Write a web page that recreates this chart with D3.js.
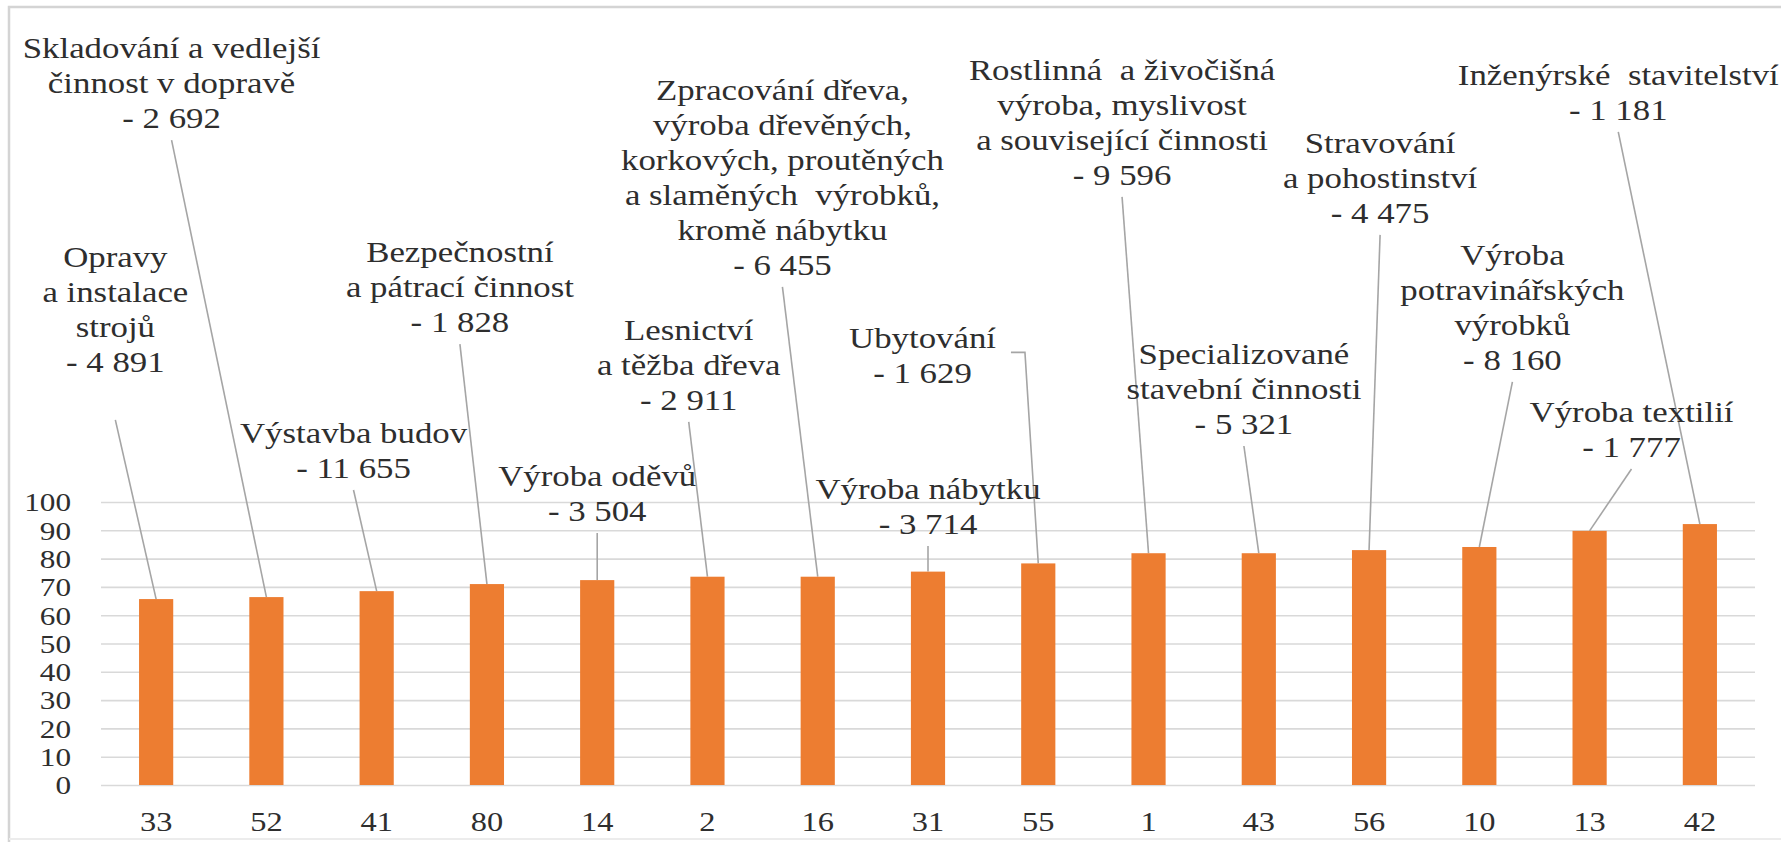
<!DOCTYPE html>
<html>
<head>
<meta charset="utf-8">
<script src="https://cdn.jsdelivr.net/npm/d3@7"></script>
<style>
  html, body { margin: 0; background: #fff; overflow: hidden; }
  svg { display: block; }
  text { font-family: "Liberation Serif", "Times New Roman", serif; fill: #2e2e2e; }
</style>
</head>
<body>
<div id="chart"></div>
<script>
// CZ-NACE divisions, ordered by share
const codes = ['33', '52', '41', '80', '14', '2', '16', '31', '55', '1', '43', '56', '10', '13', '42']
const shares = [65.7, 66.4, 68.5, 71.0, 72.4, 73.6, 73.6, 75.4, 78.3, 81.9, 81.9, 83.0, 84.1, 89.8, 92.2]
const branches = [
  ['Opravy', 'a instalace', 'strojů'],
  ['Skladování a vedlejší', 'činnost v dopravě'],
  ['Výstavba budov'],
  ['Bezpečnostní', 'a pátrací činnost'],
  ['Výroba oděvů'],
  ['Lesnictví', 'a těžba dřeva'],
  ['Zpracování dřeva,', 'výroba dřevěných,', 'korkových, proutěných', 'a slaměných\u00a0 výrobků,', 'kromě nábytku'],
  ['Výroba nábytku'],
  ['Ubytování'],
  ['Rostlinná\u00a0 a živočišná', 'výroba, myslivost', 'a související činnosti'],
  ['Specializované', 'stavební činnosti'],
  ['Stravování', 'a pohostinství'],
  ['Výroba', 'potravinářských', 'výrobků'],
  ['Výroba textilií'],
  ['Inženýrské\u00a0 stavitelství']
]
const workers = ['4 891', '2 692', '11 655', '1 828', '3 504', '2 911', '6 455', '3 714', '1 629', '9 596', '5 321', '4 475', '8 160', '1 777', '1 181']
const yTicks = [0, 10, 20, 30, 40, 50, 60, 70, 80, 90, 100]

// where the callouts sit: shift from the bar in bands, first line on the value axis
const labelShift = [-0.37, -0.86, -0.21, -0.245, 0, -0.17, -0.32, 0, -1.05, -0.24, -0.135, 0.1, 0.3, 0.38, -0.74]
const labelTop = [186.6, 260.4, 124.4, 188.3, 109.2, 160.8, 245.6, 104.6, 158.0, 252.7, 152.3, 226.9, 187.3, 131.8, 250.9]

const width = 1781
const height = 842
const margin = {top: 502, right: 26, bottom: 57, left: 101}
const innerWidth = width - margin.left - margin.right
const innerHeight = height - margin.top - margin.bottom
const lineH = 35
const stretch = 1.2

// the source picture is a bit wider than tall, so glyphs get widened
const widen = sel => sel.each(function () {
  const len = this.getComputedTextLength()
  d3.select(this)
    .attr('textLength', len * stretch)
    .attr('lengthAdjust', 'spacingAndGlyphs')
})

const svg = d3.select('#chart')
  .append('svg')
  .attr('width', width)
  .attr('height', height)

// frame of the pasted chart
svg.append('path')
  .attr('d', `M9,${height} L9,7 L${width},7`)
  .attr('fill', 'none')
  .attr('stroke', '#d4d4d4')
  .attr('stroke-width', 2.5)
svg.append('line')
  .attr('x1', 9).attr('x2', width)
  .attr('y1', 839).attr('y2', 839)
  .attr('stroke', '#ececec')
  .attr('stroke-width', 2)

const g = svg.append('g')
  .attr('transform', `translate(${margin.left},${margin.top})`)

const xScale = d3.scaleBand()
  .domain(codes)
  .range([0, innerWidth])
  .paddingInner(0.69)
  .paddingOuter(0.345)

const yScale = d3.scaleLinear()
  .domain([0, 100])
  .range([innerHeight, 0])

const gY = g.append('g')
  .attr('class', 'y axis')
  .call(d3.axisLeft(yScale).tickValues(yTicks).tickSize(-innerWidth).tickPadding(30))
gY.select('.domain').remove()
gY.selectAll('.tick line')
  .attr('stroke', '#d9d9d9')
  .attr('stroke-width', 1.6)
gY.selectAll('.tick text')
  .attr('font-size', 26)
  .attr('dy', '0.34em')
  .call(widen)

const gX = g.append('g')
  .attr('class', 'x axis')
  .attr('transform', `translate(0,${innerHeight})`)
  .call(d3.axisBottom(xScale).tickSize(0))
gX.select('.domain').remove()
gX.selectAll('.tick text')
  .attr('font-size', 27)
  .attr('y', 37)
  .attr('dy', '0.34em')
  .call(widen)

g.selectAll('.bar')
  .data(codes)
  .enter()
  .append('rect')
  .attr('class', 'bar')
  .attr('x', d => xScale(d))
  .attr('y', (d, i) => yScale(shares[i]))
  .attr('width', xScale.bandwidth())
  .attr('height', (d, i) => innerHeight - yScale(shares[i]))
  .attr('fill', '#ed7d31')

const barMid = code => xScale(code) + xScale.bandwidth() / 2
const leader = d3.line()

codes.forEach((code, i) => {
  const lines = branches[i].concat(['- ' + workers[i]])
  const cx = barMid(code) + labelShift[i] * xScale.step()
  const top = yScale(labelTop[i])

  const label = g.append('g')
    .attr('class', 'callout')
    .attr('transform', `translate(${cx},${top})`)
  label.selectAll('text')
    .data(lines)
    .enter()
    .append('text')
    .attr('text-anchor', 'middle')
    .attr('font-size', 29)
    .attr('x', 0)
    .attr('y', (d, j) => j * lineH)
    .attr('dy', '0.34em')
    .text(d => d)
    .call(widen)

  const end = [barMid(code), yScale(shares[i])]
  let pts
  if (i === 8) {
    // Ubytovani: elbow from the right side of the text
    const box = label.node().getBBox()
    const sx = cx + box.x + box.width + 15
    const sy = top + (lines.length - 1) * lineH / 2 - 3
    pts = [[sx, sy], [sx + 14, sy], end]
  } else {
    const gap = i === 0 ? 58 : 22
    pts = [[cx, top + (lines.length - 1) * lineH + gap], end]
  }
  g.insert('path', '.bar')
    .attr('d', leader(pts))
    .attr('fill', 'none')
    .attr('stroke', '#a5a5a5')
    .attr('stroke-width', 1.6)
})
</script>
</body>
</html>
